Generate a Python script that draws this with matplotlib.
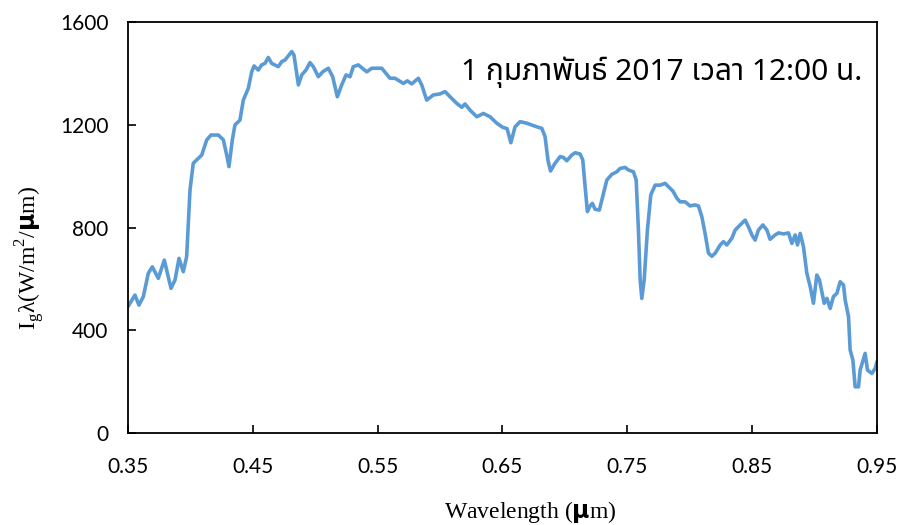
import numpy as np
import matplotlib
matplotlib.use("Agg")
import matplotlib.pyplot as plt
from matplotlib import font_manager
from matplotlib.ft2font import FT2Font

# global irradiance spectrum, 1 Feb 2017 at noon
wavelength = [
    0.350, 0.3556, 0.3588, 0.3623, 0.3663, 0.3695, 0.3743, 0.3791, 0.3845, 0.3877,
    0.3909, 0.3943, 0.3970, 0.3997, 0.4023, 0.4050, 0.4091, 0.4131, 0.4165, 0.4224,
    0.4264, 0.4291, 0.4309, 0.4336, 0.4357, 0.4397, 0.4424, 0.4464, 0.4491, 0.4510,
    0.4544, 0.4571, 0.4598, 0.4624, 0.4651, 0.4704, 0.4732, 0.4758, 0.4812, 0.4830,
    0.4865, 0.4892, 0.4926, 0.4958, 0.4985, 0.5025, 0.5060, 0.5105, 0.5140, 0.5177,
    0.5212, 0.5247, 0.5279, 0.5305, 0.5345, 0.5413, 0.5453, 0.5533, 0.5599, 0.5639,
    0.5706, 0.5738, 0.5773, 0.5826, 0.5853, 0.5893, 0.5946, 0.6000, 0.6040, 0.6080,
    0.6134, 0.6174, 0.6200, 0.6240, 0.6294, 0.6347, 0.6401, 0.6454, 0.6502, 0.6537,
    0.6567, 0.6601, 0.6641, 0.6695, 0.6775, 0.6815, 0.6841, 0.6865, 0.6885, 0.6921,
    0.6962, 0.6988, 0.7015, 0.7055, 0.7082, 0.7122, 0.7143, 0.7162, 0.7180, 0.7202,
    0.7220, 0.7242, 0.7276, 0.7309, 0.7336, 0.7376, 0.7416, 0.7442, 0.7482, 0.7509,
    0.7549, 0.7571, 0.7589, 0.7603, 0.7616, 0.7635, 0.7661, 0.7688, 0.7723, 0.7763,
    0.7803, 0.7829, 0.7865, 0.7897, 0.7923, 0.7963, 0.8003, 0.8043, 0.8070, 0.8097,
    0.8123, 0.8150, 0.8177, 0.8204, 0.8244, 0.8270, 0.8297, 0.8337, 0.8364, 0.8404,
    0.8444, 0.8470, 0.8498, 0.8524, 0.8550, 0.8586, 0.8618, 0.8644, 0.8684, 0.8711,
    0.8751, 0.8791, 0.8818, 0.8845, 0.8863, 0.8885, 0.8911, 0.8938, 0.8965, 0.8991,
    0.9018, 0.9039, 0.9077, 0.9099, 0.9125, 0.9151, 0.9179, 0.9205, 0.9232, 0.9245,
    0.9272, 0.9285, 0.9307, 0.9325, 0.9352, 0.9365, 0.9405, 0.9424, 0.9459, 0.9486,
    0.950,
]
irradiance = [
    492, 537, 498, 531, 622, 647, 602, 673, 563, 596,
    680, 628, 686, 946, 1050, 1063, 1082, 1141, 1160, 1160,
    1141, 1082, 1037, 1141, 1199, 1218, 1296, 1342, 1406, 1429,
    1413, 1433, 1439, 1462, 1439, 1426, 1446, 1452, 1485, 1471,
    1355, 1394, 1413, 1442, 1426, 1387, 1406, 1420, 1387, 1309,
    1355, 1394, 1387, 1426, 1433, 1406, 1420, 1420, 1381, 1381,
    1361, 1371, 1359, 1381, 1355, 1296, 1316, 1320, 1329, 1309,
    1283, 1268, 1281, 1257, 1231, 1244, 1231, 1206, 1190, 1185,
    1130, 1192, 1212, 1206, 1192, 1186, 1154, 1060, 1020, 1050,
    1076, 1073, 1060, 1082, 1091, 1086, 1063, 959, 862, 884,
    894, 871, 868, 933, 985, 1007, 1017, 1030, 1034, 1024,
    1017, 985, 790, 596, 524, 596, 790, 927, 965, 965,
    972, 959, 942, 914, 900, 900, 884, 888, 884, 842,
    777, 700, 688, 700, 732, 745, 732, 758, 790, 810,
    829, 803, 771, 751, 790, 810, 790, 754, 771, 779,
    775, 779, 738, 771, 732, 777, 725, 622, 570, 505,
    615, 596, 505, 524, 485, 531, 544, 589, 576, 518,
    453, 323, 284, 180, 180, 245, 310, 245, 232, 252,
    278,
]
xticks = [0.35, 0.45, 0.55, 0.65, 0.75, 0.85, 0.95]
yticks = [0, 400, 800, 1200, 1600]
title = "1 กุมภาพันธ์ 2017 เวลา 12:00 น."

LINE = "#5b9bd5"


def thai_font():
    """First installed family that has Thai glyphs."""
    preferred = ["Tahoma", "Leelawadee UI", "Noto Sans Thai", "Loma", "Garuda",
                 "Norasi", "Sarabun"]
    found = []
    for f in font_manager.fontManager.ttflist:
        try:
            if 0x0E01 in FT2Font(f.fname).get_charmap():
                found.append(f.name)
        except Exception:
            pass
    for name in preferred:
        if name in found:
            return name
    return found[0] if found else "DejaVu Sans"


plt.rcParams["mathtext.fontset"] = "custom"
plt.rcParams["mathtext.rm"] = "Liberation Serif"
plt.rcParams["mathtext.sf"] = "DejaVu Sans:bold"

fig = plt.figure(figsize=(8.98, 5.25), dpi=100)
ax = fig.add_axes([0.1425, 0.1752, 0.8341, 0.7829])

ax.plot(wavelength, irradiance, color=LINE, lw=2.6, solid_joinstyle="round",
        solid_capstyle="round")

ax.set_xlim(0.35, 0.95)
ax.set_ylim(0, 1600)
ax.set_xticks(xticks)
ax.set_yticks(yticks)
ax.set_xticklabels([f"{v:.2f}" for v in xticks], family="Lato", fontsize=15)
ax.set_yticklabels([str(v) for v in yticks], family="Lato", fontsize=15)
ax.tick_params(direction="in", length=6, width=1.2, colors="black")
ax.tick_params(axis="x", pad=17)
ax.tick_params(axis="y", pad=14)
for sp in ax.spines.values():
    sp.set_linewidth(1.3)
    sp.set_color("black")

ax.text(0.98, 0.878, title, transform=ax.transAxes, ha="right", va="center",
        family=[thai_font(), "DejaVu Sans"], fontsize=21.5)

fig.text(0.59, 0.025, r"Wavelength ($\mathsf{μ}$m)", ha="center", va="center",
         family="Liberation Serif", fontsize=17)
fig.text(0.033, 0.508, r"I$_\mathrm{g}$λ(W/m$^\mathrm{2}$/$\mathsf{μ}$m)", rotation=90,
         ha="center", va="center", family="Liberation Serif", fontsize=17)

fig.savefig("out.png", dpi=100, facecolor="white")
